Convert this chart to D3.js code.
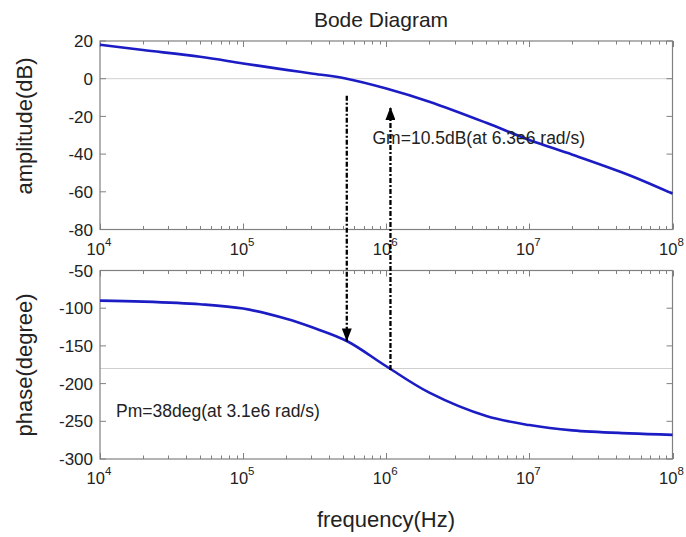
<!DOCTYPE html>
<html><head><meta charset="utf-8">
<script src="https://cdn.jsdelivr.net/npm/d3@7"></script>
<style>body{margin:0;background:#fff}svg{display:block}</style>
</head><body><svg id="c" width="686" height="537"></svg>
<script>
// ---- data ----
const freq      = [1e4, 2e4, 5e4, 1e5, 2e5, 3e5, 5.3e5, 1e6, 2e6, 5e6, 1e7, 2e7, 5e7, 1e8];
const amplitude = [18, 15.2, 11.6, 8.1, 4.7, 2.8, 0, -5.2, -12.2, -23.4, -32.5, -40.3, -51.2, -61];
const phase     = [-90, -91.3, -94.8, -100.5, -114, -125, -143.5, -177, -212, -243, -255, -262, -266, -268];
const xTickExp  = [4, 5, 6, 7, 8];
const ampTicks  = [20, 0, -20, -40, -60, -80];
const phaseTicks= [-50, -100, -150, -200, -250, -300];
const ampRef = 0, phaseRef = -180;
// margin markers (arrows)
const pmFreq = 5.3e5, pmFrom = -9, pmTo = -144;   // amp dB -> phase deg
const gmFreq = 1.07e6, gmFrom = -182, gmTo = -15; // phase deg -> amp dB
const titleText = "Bode Diagram";
const gmText = "Gm=10.5dB(at 6.3e6 rad/s)";
const pmText = "Pm=38deg(at 3.1e6 rad/s)";

const svg = d3.select("#c");
const font = "Liberation Sans, Arial, Helvetica, sans-serif";
const L = 100, R = 672.5;
const x = d3.scaleLog().domain([1e4, 1e8]).range([L, R]);
const yA = d3.scaleLinear().domain([-80, 20]).range([229.5, 41]);
const yP = d3.scaleLinear().domain([-300, -50]).range([459, 270.5]);
const frameCol = "#808080", lineCol = "#1c1cc4";

function panel(y, ticks, data, ref) {
  const [y0, y1] = y.range();
  const g = svg.append("g");
  g.append("line").attr("x1", L).attr("x2", R).attr("y1", y(ref)).attr("y2", y(ref))
    .attr("stroke", "#cfcfcf").attr("stroke-width", 1);
  const xt = [];
  for (let e = 4; e < 8; e++) for (let m = 1; m < 10; m++) xt.push({v: m * Math.pow(10, e), major: m === 1});
  xt.push({v: 1e8, major: true});
  xt.forEach(t => {
    const len = t.major ? 6 : 3.5, px = Math.round(x(t.v)) + 0.5;
    g.append("line").attr("x1", px).attr("x2", px).attr("y1", y0).attr("y2", y0 - len).attr("stroke", frameCol);
    g.append("line").attr("x1", px).attr("x2", px).attr("y1", y1).attr("y2", y1 + len).attr("stroke", frameCol);
  });
  ticks.forEach(t => {
    g.append("line").attr("x1", L).attr("x2", L + 6).attr("y1", y(t)).attr("y2", y(t)).attr("stroke", frameCol);
    g.append("line").attr("x1", R).attr("x2", R - 6).attr("y1", y(t)).attr("y2", y(t)).attr("stroke", frameCol);
    g.append("text").attr("x", 93).attr("y", y(t)).attr("dy", "0.36em").attr("text-anchor", "end")
      .attr("font-family", font).attr("font-size", 17).attr("fill", "#222").text(t);
  });
  xTickExp.forEach(e => {
    const t = g.append("text").attr("x", x(Math.pow(10, e)) - 1).attr("y", y0 + 25)
      .attr("text-anchor", "middle").attr("font-family", font).attr("font-size", 16.5).attr("fill", "#222");
    t.append("tspan").text("10");
    t.append("tspan").attr("font-size", 11.5).attr("dy", -9).text(e);
  });
  g.append("rect").attr("x", L).attr("y", y1).attr("width", R - L).attr("height", y0 - y1)
    .attr("fill", "none").attr("stroke", frameCol).attr("stroke-width", 1.2);
  const line = d3.line().x((d, i) => x(freq[i])).y(d => y(d)).curve(d3.curveCatmullRom.alpha(0.5));
  g.append("path").datum(data).attr("d", line).attr("fill", "none")
    .attr("stroke", lineCol).attr("stroke-width", 2.6);
}
panel(yA, ampTicks, amplitude, ampRef);
panel(yP, phaseTicks, phase, phaseRef);

const defs = svg.append("defs");
defs.append("marker").attr("id", "ah").attr("viewBox", "0 0 10 10").attr("refX", 10).attr("refY", 5)
  .attr("markerWidth", 13).attr("markerHeight", 10).attr("markerUnits", "userSpaceOnUse").attr("orient", "auto")
  .attr("preserveAspectRatio", "none")
  .append("path").attr("d", "M0,0 L10,5 L0,10 Z").attr("fill", "#000");
function arrow(xv, ya, yb) {
  svg.append("line").attr("x1", x(xv)).attr("x2", x(xv)).attr("y1", ya).attr("y2", yb)
    .attr("stroke", "#000").attr("stroke-width", 2.3).attr("stroke-dasharray", "5,2,2,2")
    .attr("marker-end", "url(#ah)");
}
arrow(pmFreq, yA(pmFrom), yP(pmTo));
arrow(gmFreq, yP(gmFrom), yA(gmTo));

svg.append("text").attr("x", 372.5).attr("y", 144).attr("font-family", font).attr("font-size", 17.5)
  .attr("fill", "#222").text(gmText);
svg.append("text").attr("x", 116).attr("y", 417).attr("font-family", font).attr("font-size", 17.5)
  .attr("fill", "#222").text(pmText);

svg.append("text").attr("x", 381).attr("y", 27).attr("text-anchor", "middle").attr("font-family", font)
  .attr("font-size", 21).attr("fill", "#222").text(titleText);
svg.append("text").attr("transform", "translate(32,126) rotate(-90)").attr("text-anchor", "middle")
  .attr("font-family", font).attr("font-size", 22).attr("fill", "#222").text("amplitude(dB)");
svg.append("text").attr("transform", "translate(32,365) rotate(-90)").attr("text-anchor", "middle")
  .attr("font-family", font).attr("font-size", 22).attr("fill", "#222").text("phase(degree)");
svg.append("text").attr("x", 386).attr("y", 527).attr("text-anchor", "middle")
  .attr("font-family", font).attr("font-size", 22).attr("fill", "#222").text("frequency(Hz)");
</script></body></html>
